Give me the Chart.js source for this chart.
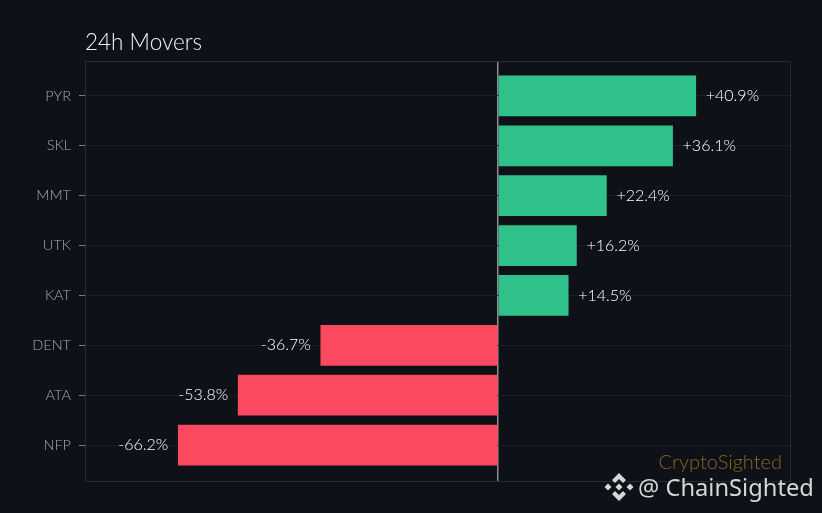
<!DOCTYPE html>
<html>
<head>
<meta charset="utf-8">
<title>24h Movers</title>
<script src="https://cdn.jsdelivr.net/npm/chart.js@4"></script>
<style>
  html, body { margin: 0; padding: 0; background: #0e1117; overflow: hidden; }
  #wrap { position: relative; width: 822px; height: 513px; }
  #logo { position: absolute; left: 604px; top: 472px; }
  #handle { position: absolute; left: 638px; top: 471px; color: #d6d6d6; font: 23.7px "Noto Sans", sans-serif; line-height: 32px; white-space: nowrap; }
</style>
</head>
<body>
<div id="wrap">
  <canvas id="chart" width="822" height="513"></canvas>
  <svg id="logo" width="30" height="30" viewBox="0 0 30 30" fill="#d6d6d6">
    <polygon points="15,1 22,8 19,11 15,7 11,11 8,8"/>
    <polygon points="15,29 22,22 19,19 15,23 11,19 8,22"/>
    <polygon points="4,11.5 7.5,15 4,18.5 0.5,15"/>
    <polygon points="26,11.5 29.5,15 26,18.5 22.5,15"/>
    <polygon points="15,11.5 18.5,15 15,18.5 11.5,15"/>
  </svg>
  <div id="handle">@ ChainSighted</div>
</div>
<script>
const symbols = ["PYR", "SKL", "MMT", "UTK", "KAT", "DENT", "ATA", "NFP"];
const changes = [40.9, 36.1, 22.4, 16.2, 14.5, -36.7, -53.8, -66.2];

const green = "#2fc18a";
const red = "#fb4a60";
const uiFont = "Lato, sans-serif";

const rows = changes.map((v, i) => ({ x: v, y: i }));

// top and right edges of the frame, plus the % text next to each bar
const extras = {
  id: "extras",
  beforeDatasetsDraw(chart) {
    const { ctx, chartArea: a } = chart;
    ctx.save();
    ctx.strokeStyle = "#272b31";
    ctx.lineWidth = 1;
    ctx.strokeRect(a.left + 0.5, a.top + 0.5, a.width, a.height);
    ctx.restore();
  },
  afterDatasetsDraw(chart) {
    const { ctx, scales } = chart;
    ctx.save();
    ctx.font = "300 16px " + uiFont;
    ctx.fillStyle = "#ffffff";
    ctx.textBaseline = "middle";
    changes.forEach((v, i) => {
      const x = scales.x.getPixelForValue(v);
      const y = scales.y.getPixelForValue(i);
      ctx.textAlign = v >= 0 ? "left" : "right";
      ctx.fillText((v >= 0 ? "+" : "") + v.toFixed(1) + "%", x + (v >= 0 ? 10 : -10), y);
    });
    ctx.font = "300 20px " + uiFont;
    ctx.fillStyle = "#86691a";
    ctx.textAlign = "right";
    ctx.fillText("CryptoSighted", 782, 463);
    ctx.restore();
  }
};

new Chart(document.getElementById("chart"), {
  type: "bar",
  data: {
    datasets: [{
      data: rows,
      backgroundColor: changes.map(v => v >= 0 ? green : red),
      borderWidth: 0,
      barThickness: 40
    }]
  },
  options: {
    indexAxis: "y",
    responsive: false,
    animation: false,
    devicePixelRatio: 1,
    layout: { padding: { top: 29, right: 32, bottom: 32, left: 0 } },
    plugins: {
      legend: { display: false },
      tooltip: { enabled: false },
      title: {
        display: true,
        text: "24h Movers",
        align: "start",
        fullSize: false,
        color: "#f2f2f2",
        font: { family: uiFont, size: 22.5, weight: "300" },
        padding: { top: 0, bottom: 5 }
      }
    },
    scales: {
      x: {
        type: "linear",
        min: -85.5,
        max: 60.4,
        afterBuildTicks(axis) { axis.ticks = [{ value: 0 }]; },
        afterFit(axis) { axis.height = 0; },
        ticks: { display: false },
        border: { display: false },
        grid: { color: "#8b8e92", lineWidth: 1.5, drawTicks: false }
      },
      y: {
        type: "linear",
        reverse: true,
        offset: false,
        min: -0.7,
        max: 7.72,
        afterFit(axis) { axis.width = 85; },
        ticks: {
          stepSize: 1,
          includeBounds: false,
          autoSkip: false,
          padding: 8,
          color: "#a6a9ad",
          font: { family: uiFont, size: 14.5, weight: "300" },
          callback: v => symbols[v]
        },
        border: { display: false },
        grid: { offset: false, color: "#1b1f26", lineWidth: 1, tickColor: "#777a7e", tickLength: 6 }
      }
    }
  },
  plugins: [extras]
});
</script>
</body>
</html>
